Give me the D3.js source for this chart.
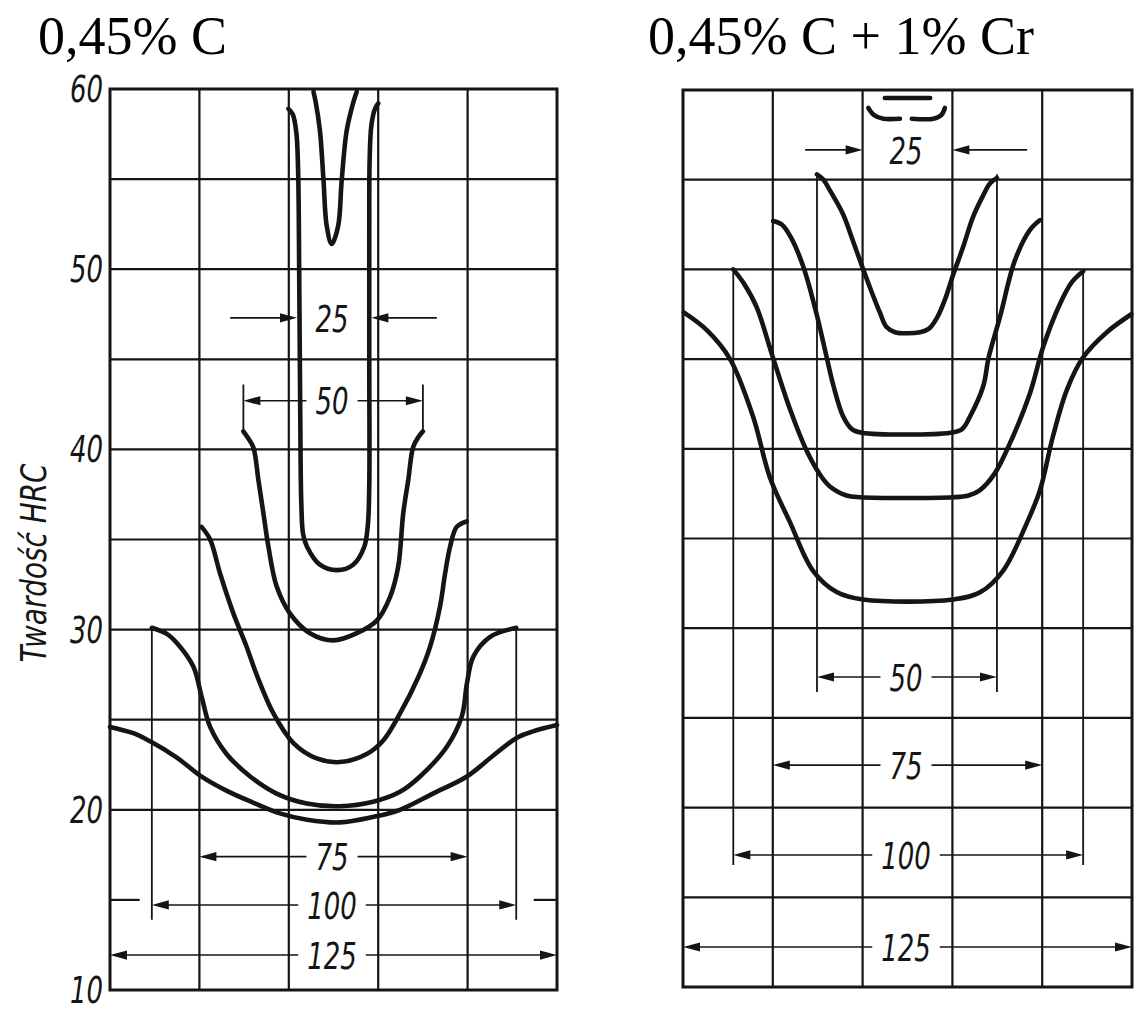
<!DOCTYPE html>
<html>
<head>
<meta charset="utf-8">
<script src="https://cdn.jsdelivr.net/npm/d3@7"></script>
<style>
  html, body { margin: 0; background: #fff; }
  svg { display: block; }
  .title { font-family: "Liberation Serif", "Times New Roman", serif; font-size: 54px; fill: #000; }
  .num { font-family: "DejaVu Sans Condensed", "DejaVu Sans", sans-serif; font-style: italic; font-size: 38px; fill: #151515; }
  .axis-title { font-family: "DejaVu Sans Condensed", "DejaVu Sans", sans-serif; font-style: italic; font-size: 36px; fill: #151515; }
</style>
</head>
<body>
<svg id="chart" width="1139" height="1012"></svg>
<script>
// Hardness (HRC) across the section of quenched round bars of several diameters.
// Each profile: [distance from bar axis in mm, hardness HRC].

const diameters = [25, 50, 75, 100, 125];
const hrcTicks = [10, 20, 30, 40, 50, 60];
const panelTitles = ["0,45% C", "0,45% C + 1% Cr"];
const axisTitle = "Twardość HRC";

// ---- 0,45% C ----
const c45_d25 = [[-12.6,58.9],[-11.4,58.6],[-10.4,57.6],[-9.9,55.5],[-9.6,50],[-9.3,42],[-9.0,37],[-8.5,35.3],[-7.4,34.6],[-3.8,33.6],[1.0,33.3],[5.5,33.6],[8.6,34.6],[9.6,35.8],[10.0,38],[10.0,45],[10.0,52],[10.1,56],[10.6,58],[11.6,58.9],[12.5,59.2]];
const c45_d25core = [[-5.6,59.85],[-5.0,59.3],[-3.8,57.7],[-2.8,54.95],[-1.9,52.4],[-0.5,51.4],[1.3,52.4],[2.3,54.95],[3.7,57.7],[5.6,59.3],[6.5,59.85]];
const c45_d50 = [[-25.2,41.0],[-23.8,40.6],[-22.4,40.1],[-21.0,38.3],[-19.6,36.45],[-18.2,34.6],[-15.9,32.4],[-12.2,30.9],[-6.6,29.8],[0,29.4],[6.5,29.8],[12.1,30.5],[15.8,31.8],[18.1,33.5],[19.5,36.45],[20.9,38.3],[22.3,40.15],[23.8,40.7],[25.0,41.0]];
const c45_d75 = [[-36.9,35.7],[-34.5,35.0],[-31.7,33.1],[-28.0,30.9],[-24.3,29.05],[-21.5,27.5],[-16.8,25.35],[-11.2,23.7],[-4.7,22.85],[1.8,22.65],[9.3,23.1],[13.9,23.85],[18.6,25.35],[23.8,27.4],[27.0,29.05],[29.8,31.3],[31.2,33.1],[32.6,34.6],[34.45,35.7],[37.25,36.0]];
const c45_d100 = [[-50.8,30.1],[-46.5,29.75],[-43.8,29.25],[-39.2,27.95],[-36.9,26.3],[-34.5,24.6],[-29.9,23.1],[-23.3,21.85],[-15.9,20.9],[-7.5,20.35],[1.8,20.2],[11.1,20.45],[18.6,21.0],[24.2,21.85],[31.7,23.5],[35.9,25.2],[37.3,27.0],[39.1,28.5],[43.8,29.6],[51.1,30.1]];
const c45_d125 = [[-62.5,24.6],[-56,24.25],[-51.3,23.8],[-43.8,22.9],[-37.3,21.9],[-29.8,21.05],[-22.5,20.4],[-15.0,19.8],[-7.4,19.45],[1.8,19.3],[11.0,19.6],[18.6,20.0],[27.8,20.9],[37.3,21.85],[44.6,23.0],[51.3,24.0],[55.8,24.35],[62.5,24.7]];

// ---- 0,45% C + 1% Cr ----
const c45cr_d25a = [[-10.9,59.0],[-9.3,58.6],[-6.7,58.4],[-2.1,58.4]];
const c45cr_d25b = [[1.2,58.4],[7.2,58.4],[9.4,58.6],[10.4,59.0]];
const c45cr_d25top = [[-6.3,59.55],[6.3,59.55]];
const c45cr_d50 = [[-25.2,55.3],[-23.4,55.0],[-21.6,54.4],[-18.0,53.1],[-15.2,51.6],[-12.7,50.2],[-9.9,48.7],[-7.7,47.6],[-5.9,46.8],[-3.5,46.5],[3.5,46.5],[6.0,46.7],[8.2,47.3],[10.4,48.3],[12.7,49.7],[15.4,51.2],[18.2,52.9],[21.0,54.1],[23.0,54.8],[24.9,55.1]];
const c45cr_d75 = [[-37.4,52.7],[-35.0,52.5],[-32.5,51.8],[-29.0,50.15],[-25.3,47.5],[-22.5,45.1],[-20.6,43.5],[-17.9,41.8],[-15.5,41.1],[-12.75,40.9],[12.0,40.9],[15.2,41.1],[17.4,41.8],[21.1,43.5],[22.6,45.1],[25.75,47.35],[29.9,50.5],[34.1,52.2],[36.9,52.75]];
const c45cr_d100 = [[-48.5,50.0],[-45.5,49.2],[-42.0,47.9],[-37.8,45.3],[-32.7,42.2],[-28.1,39.9],[-24.5,38.6],[-21.6,37.9],[-17,37.4],[-13.2,37.3],[12.75,37.3],[17,37.4],[20.2,37.7],[24.2,38.6],[28.5,40.3],[34.1,43.1],[37.8,45.7],[42.5,48.1],[45.8,49.3],[48.9,49.9]];
const c45cr_d125 = [[-62.3,47.6],[-55.8,46.6],[-49.4,45.0],[-43.0,41.8],[-38.3,38.4],[-32.7,35.9],[-26.3,33.2],[-19.6,32.0],[-12.4,31.6],[12.7,31.6],[20.2,32.0],[26.6,33.2],[33.3,35.9],[36.9,37.7],[40.5,40.7],[44.4,43.3],[48.9,45.1],[55.5,46.5],[62.3,47.5]];

// ---- layout ----
const ink = "#151515";
const numScale = 0.76;   // narrow drafting lettering
const panels = [
  {
    title: panelTitles[0], titleX: 38, titleY: 54,
    box: { x0: 110, x1: 557, y0: 89, y1: 990 },
    ticks: true,
    curves: [c45_d25, c45_d25core, c45_d50, c45_d75, c45_d100, c45_d125],
    // the 15 HRC line is only drawn between the frame and the 100 mm extension lines
    gridSpans: { 15: [[-62.5, -54.2], [56, 62.5]] },
    dims: [
      { d: diameters[0], at: 47.3, inward: true, tips: [-10.2, 10.6], tails: [-28.9, 28.9] },
      { d: diameters[1], at: 42.7, profile: c45_d50, ext: [43.6, 41.0] },
      { d: diameters[2], at: 17.4 },
      { d: diameters[3], at: 14.72, profile: c45_d100, ext: [30.1, 13.9] },
      { d: diameters[4], at: 11.94 }
    ]
  },
  {
    title: panelTitles[1], titleX: 648, titleY: 54,
    box: { x0: 683, x1: 1132, y0: 90, y1: 987 },
    ticks: false,
    curves: [c45cr_d25a, c45cr_d25b, c45cr_d25top, c45cr_d50, c45cr_d75, c45cr_d100, c45cr_d125],
    gridSpans: {},
    dims: [
      { d: diameters[0], at: 56.66, inward: true, tips: [-12.5, 12.5], tails: [-28.5, 33.3] },
      { d: diameters[1], at: 27.28, profile: c45cr_d50, ext: [55.3, 26.45] },
      { d: diameters[2], at: 22.37 },
      { d: diameters[3], at: 17.36, profile: c45cr_d100, ext: [50.0, 16.8] },
      { d: diameters[4], at: 12.23 }
    ]
  }
];

const svg = d3.select("#chart");

function arrowHead(g, tx, ty, dir) {
  const L = 17, W = 4.6;
  g.append("path")
    .attr("d", `M${tx},${ty}L${tx - dir * L},${ty - W}L${tx - dir * L},${ty + W}Z`)
    .attr("fill", ink);
}

panels.forEach(p => {
  const x = d3.scaleLinear().domain([-62.5, 62.5]).range([p.box.x0, p.box.x1]);
  const y = d3.scaleLinear().domain([10, 60]).range([p.box.y1, p.box.y0]);
  const g = svg.append("g");

  // title
  svg.append("text").attr("class", "title")
    .attr("x", p.titleX).attr("y", p.titleY).text(p.title);

  // grid
  const gx = d3.range(-37.5, 62.4, 25);
  g.selectAll(null).data(gx).join("line")
    .attr("x1", d => x(d)).attr("x2", d => x(d))
    .attr("y1", y(60)).attr("y2", y(10))
    .attr("stroke", ink).attr("stroke-width", 2.2);
  d3.range(15, 60, 5).forEach(v => {
    const spans = p.gridSpans[v] || [[-62.5, 62.5]];
    spans.forEach(s => g.append("line")
      .attr("x1", x(s[0])).attr("x2", x(s[1]))
      .attr("y1", y(v)).attr("y2", y(v))
      .attr("stroke", ink).attr("stroke-width", 2.2));
  });
  g.append("rect")
    .attr("x", x(-62.5)).attr("y", y(60))
    .attr("width", x(62.5) - x(-62.5)).attr("height", y(10) - y(60))
    .attr("fill", "none").attr("stroke", ink).attr("stroke-width", 3);

  // hardness scale
  if (p.ticks) {
    const ax = g.append("g")
      .attr("transform", `translate(${x(-62.5)},0)`)
      .call(d3.axisLeft(y).tickValues(hrcTicks).tickSize(0).tickPadding(7).tickFormat(d3.format("d")));
    ax.select(".domain").remove();
    ax.selectAll("text").attr("class", "num").attr("font-size", null).attr("font-family", null)
      .attr("x", -7 / numScale).attr("transform", `scale(${numScale},1)`)
      .attr("dy", "0.33em").attr("fill", ink);
    svg.append("text").attr("class", "axis-title")
      .attr("transform", `translate(46,563) rotate(-90) scale(0.86,1)`)
      .attr("text-anchor", "middle").text(axisTitle);
  }

  // dimension lines
  const cx = x(0) - 1.5;
  p.dims.forEach(dm => {
    const yy = y(dm.at);
    // extension lines drop from the ends of the profile they measure
    const ends = dm.profile ? [dm.profile[0][0], dm.profile[dm.profile.length - 1][0]] : [-dm.d / 2, dm.d / 2];
    if (dm.ext) {
      ends.forEach(e => g.append("line")
        .attr("x1", x(e)).attr("x2", x(e))
        .attr("y1", y(dm.ext[0])).attr("y2", y(dm.ext[1]))
        .attr("stroke", ink).attr("stroke-width", 1.8));
    }
    const label = g.append("text").attr("class", "num")
      .attr("transform", `translate(${cx},${yy}) scale(${numScale},1)`)
      .attr("dy", "0.36em")
      .attr("text-anchor", "middle").text(dm.d);
    if (dm.inward) {
      [0, 1].forEach(i => {
        const tip = x(dm.tips[i]), tail = x(dm.tails[i]);
        const dir = tip > tail ? 1 : -1;
        g.append("line").attr("x1", tail).attr("x2", tip - dir * 4)
          .attr("y1", yy).attr("y2", yy).attr("stroke", ink).attr("stroke-width", 1.6);
        arrowHead(g, tip, yy, dir);
      });
    } else {
      const w = label.node().getComputedTextLength() * numScale;
      const gap = w / 2 + 9;
      const xl = x(ends[0]), xr = x(ends[1]);
      g.append("line").attr("x1", xl + 4).attr("x2", cx - gap)
        .attr("y1", yy).attr("y2", yy).attr("stroke", ink).attr("stroke-width", 1.6);
      g.append("line").attr("x1", cx + gap).attr("x2", xr - 4)
        .attr("y1", yy).attr("y2", yy).attr("stroke", ink).attr("stroke-width", 1.6);
      arrowHead(g, xl, yy, -1);
      arrowHead(g, xr, yy, 1);
    }
  });

  // hardness profiles
  const line = d3.line().x(d => x(d[0])).y(d => y(d[1])).curve(d3.curveCatmullRom.alpha(0.5));
  g.selectAll(null).data(p.curves).join("path")
    .attr("d", line)
    .attr("fill", "none").attr("stroke", ink)
    .attr("stroke-width", 4.6)
    .attr("stroke-linecap", "round").attr("stroke-linejoin", "round");
});
</script>
</body>
</html>
